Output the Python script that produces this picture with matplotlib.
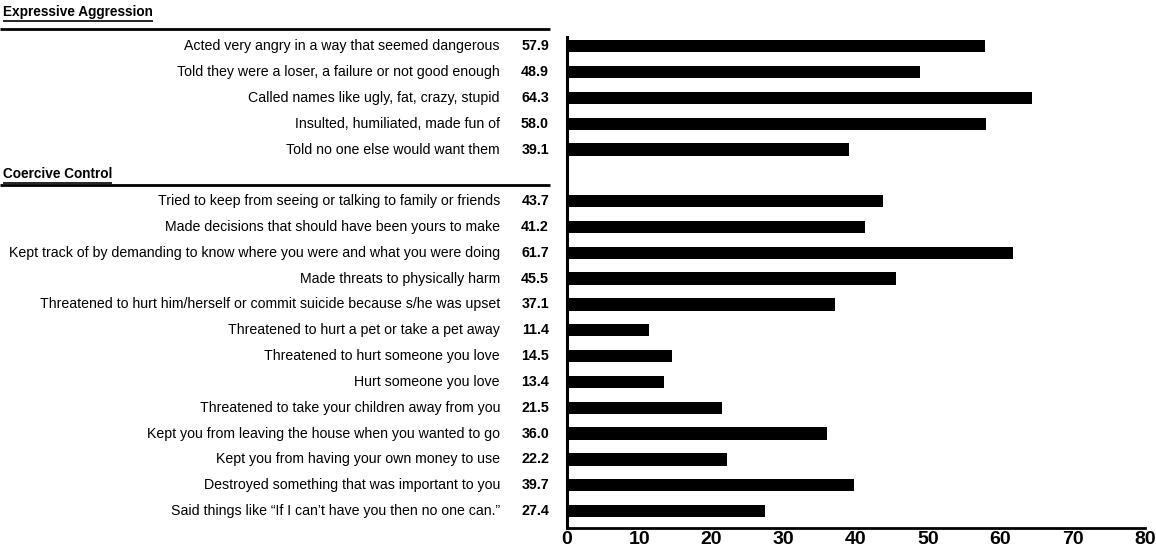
import matplotlib
matplotlib.use("Agg")
import matplotlib.pyplot as plt
from matplotlib.transforms import blended_transform_factory
from matplotlib import font_manager

names = {f.name for f in font_manager.fontManager.ttflist}
FONT = "Liberation Sans Narrow" if "Liberation Sans Narrow" in names else "Liberation Sans"
plt.rcParams["font.family"] = [FONT, "DejaVu Sans"]

group_titles = ["Expressive Aggression", "Coercive Control"]

expressive_labels = [
    "Acted very angry in a way that seemed dangerous",
    "Told they were a loser, a failure or not good enough",
    "Called names like ugly, fat, crazy, stupid",
    "Insulted, humiliated, made fun of",
    "Told no one else would want them",
]
expressive_values = [57.9, 48.9, 64.3, 58.0, 39.1]

coercive_labels = [
    "Tried to keep from seeing or talking to family or friends",
    "Made decisions that should have been yours to make",
    "Kept track of by demanding to know where you were and what you were doing",
    "Made threats to physically harm",
    "Threatened to hurt him/herself or commit suicide because s/he was upset",
    "Threatened to hurt a pet or take a pet away",
    "Threatened to hurt someone you love",
    "Hurt someone you love",
    "Threatened to take your children away from you",
    "Kept you from leaving the house when you wanted to go",
    "Kept you from having your own money to use",
    "Destroyed something that was important to you",
    "Said things like \u201cIf I can\u2019t have you then no one can.\u201d",
]
coercive_values = [43.7, 41.2, 61.7, 45.5, 37.1, 11.4, 14.5, 13.4, 21.5, 36.0, 22.2, 39.7, 27.4]

x_ticks = [0, 10, 20, 30, 40, 50, 60, 70, 80]

W, H = 1156, 550
fig = plt.figure(figsize=(W / 100, H / 100), dpi=100)
ax = fig.add_axes([567 / W, 1 - 528 / H, (1145 - 567) / W, (528 - 37) / H])

# rows: expressive 0..4, gap row 5 (header), coercive 6..18
exp_pos = list(range(len(expressive_labels)))
coe_pos = [len(expressive_labels) + 1 + i for i in range(len(coercive_labels))]

ax.barh(exp_pos, expressive_values, height=0.48, color="black")
ax.barh(coe_pos, coercive_values, height=0.48, color="black")

ax.set_xlim(0, 80)
ax.set_ylim(18.66, -0.36)
ax.set_xticks(x_ticks)
ax.set_xticklabels([str(t) for t in x_ticks], fontsize=14, fontweight="bold")
ax.tick_params(axis="x", length=0, pad=2)
ax.set_yticks([])
for s in ["top", "right"]:
    ax.spines[s].set_visible(False)
ax.spines["left"].set_linewidth(2.2)
ax.spines["bottom"].set_linewidth(2.0)

tr = blended_transform_factory(fig.transFigure, ax.transData)
lab_x = 500 / W
val_x = 549 / W
fs = 10.2
vfs = 10.3
for p, lab, v in zip(exp_pos, expressive_labels, expressive_values):
    ax.text(lab_x, p, lab, transform=tr, ha="right", va="center", fontsize=fs, clip_on=False)
    ax.text(val_x, p, f"{v:.1f}", transform=tr, ha="right", va="center", fontsize=vfs,
            fontweight="bold", clip_on=False)
for p, lab, v in zip(coe_pos, coercive_labels, coercive_values):
    ax.text(lab_x, p, lab, transform=tr, ha="right", va="center", fontsize=fs, clip_on=False)
    ax.text(val_x, p, f"{v:.1f}", transform=tr, ha="right", va="center", fontsize=vfs,
            fontweight="bold", clip_on=False)

# group headers with separator lines
header_rows = [-1.32, 4.95]
line_rows = [-0.66, 5.38]
head_texts = []
for title, hy, ly in zip(group_titles, header_rows, line_rows):
    t = ax.text(3 / W, hy, title, transform=tr, ha="left", va="center", fontsize=9.8,
                fontweight="bold", clip_on=False)
    head_texts.append((t, hy))
    ax.plot([0, 550 / W], [ly, ly], transform=tr, color="black", lw=2.0, clip_on=False,
            solid_capstyle="butt")

fig.canvas.draw()
r = fig.canvas.get_renderer()
for t, hy in head_texts:
    bb = t.get_window_extent(renderer=r)
    x0, x1 = bb.x0 / W, bb.x1 / W
    ax.plot([x0, x1], [hy + 0.33, hy + 0.33], transform=tr, color="black", lw=1.2,
            clip_on=False, solid_capstyle="butt")

fig.savefig("out.png", dpi=100)
